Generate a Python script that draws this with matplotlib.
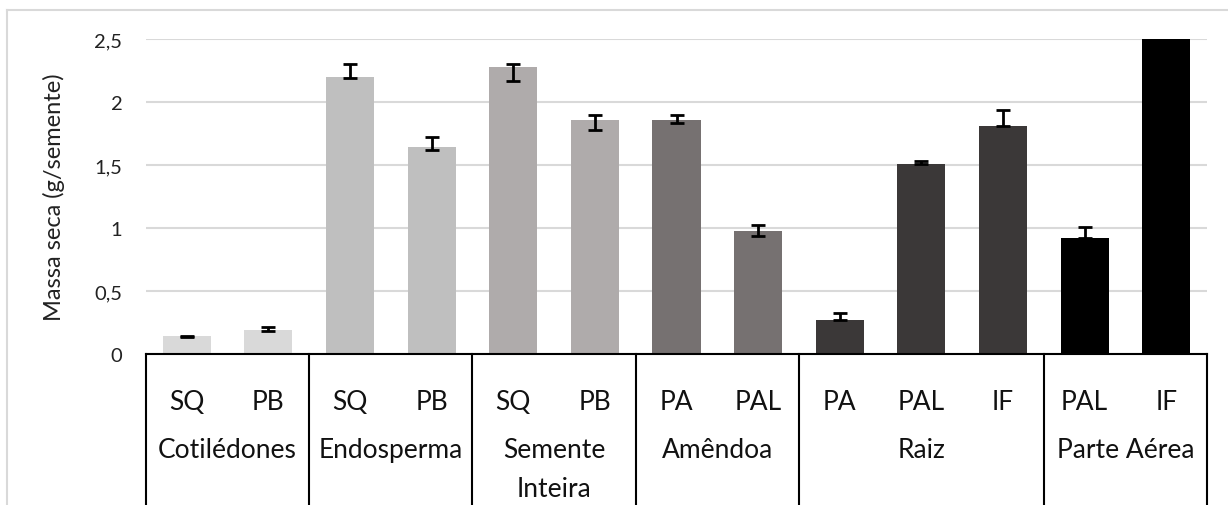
import matplotlib
matplotlib.use("Agg")
import matplotlib.pyplot as plt
from matplotlib.lines import Line2D

plt.rcParams['font.family'] = ['Lato', 'DejaVu Sans']

# === Data ===
groups = ["Cotilédones", "Endosperma", "Semente\nInteira", "Amêndoa", "Raiz", "Parte Aérea"]
group_sizes = [2, 2, 2, 2, 3, 2]
group_colors = ["#d9d9d9", "#bfbfbf", "#afabab", "#767171", "#3b3838", "#000000"]
treatments = ["SQ", "PB", "SQ", "PB", "SQ", "PB", "PA", "PAL", "PA", "PAL", "IF", "PAL", "IF"]
values = [0.14, 0.19, 2.20, 1.64, 2.28, 1.86, 1.86, 0.98, 0.27, 1.51, 1.81, 0.92, 2.50]
err_low = [0.005, 0.008, 0.01, 0.02, 0.11, 0.08, 0.025, 0.045, 0.0, 0.0, 0.0, 0.0, 0.0]
err_high = [0.005, 0.027, 0.10, 0.085, 0.025, 0.035, 0.04, 0.04, 0.055, 0.025, 0.125, 0.09, 0.0]
y_ticks = [0, 0.5, 1, 1.5, 2, 2.5]
y_tick_labels = ["0", "0,5", "1", "1,5", "2", "2,5"]


def entry():
    fig = plt.figure(figsize=(12.28, 5.06), dpi=100)
    ax = fig.add_axes([146 / 1228, 1 - 355 / 506, (1207 - 146) / 1228, (355 - 40) / 506])

    colors = []
    for size, color in zip(group_sizes, group_colors):
        colors += [color] * size
    xs = list(range(len(values)))

    ax.bar(xs, values, width=0.59, color=colors, zorder=2)
    ax.errorbar(xs, values, yerr=[err_low, err_high], fmt='none', ecolor='black',
                elinewidth=2.0, capsize=4.7, capthick=2.0, zorder=3)

    ax.set_xlim(-0.5, len(values) - 0.5)
    ax.set_ylim(0, 2.5)
    ax.set_yticks(y_ticks)
    ax.set_yticklabels(y_tick_labels, fontsize=14.5, color='#222222')
    ax.tick_params(axis='y', length=0, pad=17)
    ax.set_xticks([])
    ax.yaxis.grid(True, color='#d9d9d9', linewidth=1.5, zorder=0)
    ax.set_axisbelow(True)
    for side in ['left', 'right', 'top']:
        ax.spines[side].set_visible(False)
    ax.spines['bottom'].set_linewidth(1.5)
    ax.spines['bottom'].set_zorder(4)

    ax.set_ylabel("Massa seca (g/semente)", fontsize=17, color='#222222')
    ax.yaxis.set_label_coords(-0.0763, 0.5)

    # === Category table below the axis ===
    trans = ax.get_xaxis_transform()
    for x, label in zip(xs, treatments):
        ax.text(x, -0.152, label, transform=trans, ha='center', va='center', fontsize=19, color='#111111')

    edge = -0.5
    boundaries = [edge]
    for size in group_sizes:
        edge += size
        boundaries.append(edge)
    for i, label in enumerate(groups):
        center = (boundaries[i] + boundaries[i + 1]) / 2
        ax.text(center, -0.262, label, transform=trans, ha='center', va='top', fontsize=19,
                color='#111111', linespacing=1.7)
    for b in boundaries:
        ax.plot([b, b], [0, -0.6], transform=trans, color='black', linewidth=1.5, clip_on=False, zorder=4)

    # light outer frame, cut at the right and bottom
    fig.add_artist(Line2D([7 / 1228, 1], [1 - 11 / 506] * 2, color='#d9d9d9', linewidth=1.5))
    fig.add_artist(Line2D([7 / 1228] * 2, [0, 1 - 11 / 506], color='#d9d9d9', linewidth=1.5))

    fig.savefig("out.png", dpi=100)


if __name__ == '__main__':
    entry()
